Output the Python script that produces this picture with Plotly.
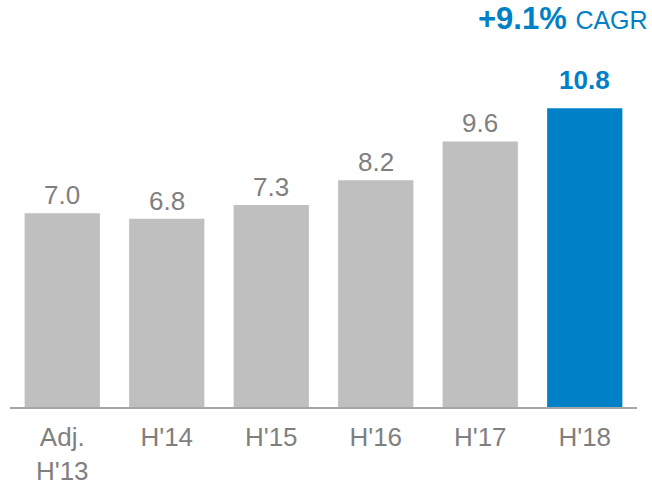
import plotly.graph_objects as go

categories = ["Adj.<br>H'13", "H'14", "H'15", "H'16", "H'17", "H'18"]
values = [7.0, 6.8, 7.3, 8.2, 9.6, 10.8]
labels = ["7.0", "6.8", "7.3", "8.2", "9.6", "<b>10.8</b>"]
bar_colors = ["#bfbfbf"] * 5 + ["#0080c6"]
label_colors = ["#7f7f7f"] * 5 + ["#0080c6"]
label_lift = [1, 1, 1, 1, 1, 11]

xs = list(range(len(categories)))

fig = go.Figure(go.Bar(
    x=xs,
    y=values,
    marker=dict(color=bar_colors, line=dict(width=0)),
    width=0.72,
    hoverinfo="skip",
))

annotations = [
    dict(x=x, y=v, xref="x", yref="y", text=t, showarrow=False,
         yanchor="bottom", xanchor="center", yshift=s,
         font=dict(size=26, color=c, family="Liberation Sans, Arial"))
    for x, v, t, c, s in zip(xs, values, labels, label_colors, label_lift)
]
annotations.append(dict(
    xref="paper", yref="paper", x=1, y=1, xanchor="right", yanchor="middle",
    xshift=12, yshift=57, showarrow=False, borderpad=0,
    text="<b>+9.1%</b> <span style='font-size:25px'>CAGR</span>",
    font=dict(size=31, color="#0080c6", family="Liberation Sans, Arial"),
))

fig.update_layout(
    width=652, height=485,
    margin=dict(l=10, r=15, t=75, b=78, autoexpand=False),
    plot_bgcolor="white", paper_bgcolor="white",
    showlegend=False,
    font=dict(family="Liberation Sans, Arial", color="#7f7f7f"),
    xaxis=dict(
        tickmode="array", tickvals=xs, ticktext=categories,
        range=[-0.5, 5.5], showline=True, linecolor="#a6a6a6", linewidth=2,
        showgrid=False, zeroline=False, ticks="", tickfont=dict(size=26, color="#7f7f7f"),
        ticklabelstandoff=6, automargin=False,
    ),
    yaxis=dict(range=[0, 12], visible=False, showgrid=False, zeroline=False, automargin=False),
    annotations=annotations,
)

fig.write_html("out.html", config={"displayModeBar": False},
               post_script="document.body.style.margin='0';document.body.style.overflow='hidden';")
